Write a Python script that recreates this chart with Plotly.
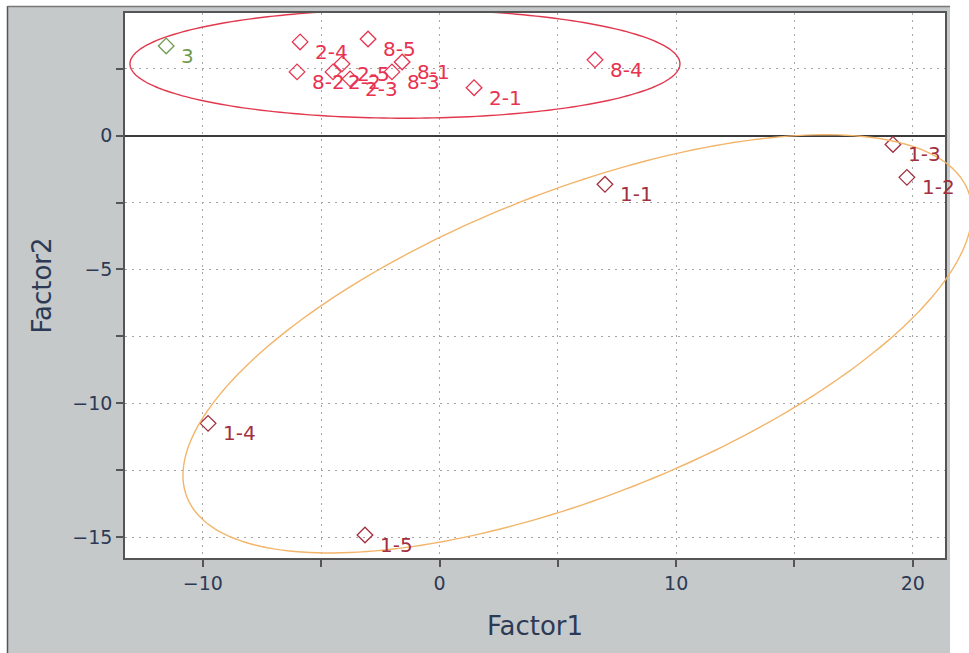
import numpy as np
import plotly.graph_objects as go

# ---------------- data ----------------
names = ["3", "2-4", "8-5", "8-2", "2-2", "2-5", "2-3", "8-3", "8-1", "2-1", "8-4",
         "1-1", "1-3", "1-2", "1-4", "1-5"]
factor1 = [-11.55, -5.89, -3.02, -6.02, -4.50, -4.12, -3.78, -2.01, -1.58, 1.46, 6.57,
           6.99, 19.16, 19.75, -9.78, -3.15]
factor2 = [3.35, 3.50, 3.61, 2.38, 2.38, 2.68, 2.12, 2.38, 2.75, 1.79, 2.83,
           -1.82, -0.33, -1.56, -10.75, -14.92]
groups = ["g3", "g28", "g28", "g28", "g28", "g28", "g28", "g28", "g28", "g28", "g28",
          "g1", "g1", "g1", "g1", "g1"]

group_order = ["g28", "g1", "g3"]
group_colors = {"g28": "#e8324f", "g1": "#a2303f", "g3": "#6f9a50"}

# confidence ellipses (centre, semi-axis vectors in data units)
ell_groups = ["g28", "g1"]
ell_cx = [-1.46, 5.83]
ell_cy = [2.68, -7.78]
ell_major = [(11.62, 0.0), (16.50, 5.73)]
ell_minor = [(0.0, 2.03), (2.38, -5.31)]
ell_colors = ["#e2384e", "#f2b56a"]

x_range = [-13.29, 21.36]
y_range = [-15.78, 4.58]
x_major = [-10, 0, 10, 20]
y_major = [-15, -10, -5, 0]

# ---------------- figure ----------------
fig = go.Figure()

for g in group_order:
    idx = [i for i, gg in enumerate(groups) if gg == g]
    fig.add_trace(go.Scatter(
        x=[factor1[i] for i in idx],
        y=[factor2[i] for i in idx],
        mode="markers",
        marker=dict(symbol="diamond-open", size=12, color=group_colors[g],
                    line=dict(width=1.3, color=group_colors[g])),
        cliponaxis=False,
        showlegend=False,
    ))

annotations = []
for n, xv, yv, g in zip(names, factor1, factor2, groups):
    annotations.append(dict(x=xv, y=yv, xref="x", yref="y", text=n, showarrow=False,
                            xanchor="left", yanchor="middle", xshift=13, yshift=-10,
                            font=dict(family="DejaVu Sans", size=20, color=group_colors[g])))

shapes = []
W, H = 969, 653
ml, mr, mt, mb = 125, 24, 11, 95
pw, ph = W - ml - mr, H - mt - mb


def px2paper_x(px):
    return (px - ml) / pw


def py2paper_y(py):
    return (H - mb - py) / ph


# white page around the grey panel
shapes.append(dict(type="rect", xref="paper", yref="paper", layer="below",
                   x0=px2paper_x(950), x1=px2paper_x(975), y0=py2paper_y(660), y1=py2paper_y(-5),
                   fillcolor="white", line=dict(width=0)))
shapes.append(dict(type="rect", xref="paper", yref="paper", layer="below",
                   x0=px2paper_x(-5), x1=px2paper_x(975), y0=py2paper_y(4), y1=py2paper_y(-5),
                   fillcolor="white", line=dict(width=0)))
shapes.append(dict(type="rect", xref="paper", yref="paper", layer="below",
                   x0=px2paper_x(-5), x1=px2paper_x(7), y0=py2paper_y(660), y1=py2paper_y(-5),
                   fillcolor="white", line=dict(width=0)))
shapes.append(dict(type="line", xref="paper", yref="paper", layer="below",
                   x0=px2paper_x(7.5), x1=px2paper_x(7.5), y0=py2paper_y(660), y1=py2paper_y(4),
                   line=dict(color="#555", width=1.5)))
shapes.append(dict(type="line", xref="paper", yref="paper", layer="below",
                   x0=px2paper_x(7.5), x1=px2paper_x(950), y0=py2paper_y(4.5), y1=py2paper_y(4.5),
                   line=dict(color="#777", width=1.5)))

# ellipses drawn with x in paper units so they may extend past the frame
t = np.linspace(0, 2 * np.pi, 241)
for cx, cy, (ux, uy), (vx, vy), col in zip(ell_cx, ell_cy, ell_major, ell_minor, ell_colors):
    ex = cx + ux * np.cos(t) + vx * np.sin(t)
    ey = cy + uy * np.cos(t) + vy * np.sin(t)
    xp = (ex - x_range[0]) / (x_range[1] - x_range[0])
    path = "M " + " L ".join(f"{a:.5f},{b:.5f}" for a, b in zip(xp, ey)) + " Z"
    shapes.append(dict(type="path", path=path, xref="paper", yref="y", layer="above",
                       line=dict(color=col, width=1.4)))

axis_font = dict(family="DejaVu Sans", size=19, color="#2c3a55")
title_font = dict(family="DejaVu Sans", size=26, color="#2c3a55")
grid_col = "#a5a5a5"
grid_dash = "2px,5px"

fig.update_layout(
    width=W, height=H,
    margin=dict(l=ml, r=mr, t=mt, b=mb),
    paper_bgcolor="#c6c9ca",
    plot_bgcolor="white",
    shapes=shapes,
    annotations=annotations,
    xaxis=dict(
        range=x_range, tickvals=x_major, ticks="outside", ticklen=7, tickwidth=1.5,
        tickcolor="#555", tickfont=axis_font,
        showline=True, linecolor="#555", linewidth=1.5, mirror=True,
        showgrid=True, gridcolor=grid_col, griddash=grid_dash, gridwidth=1,
        zeroline=False,
        minor=dict(dtick=5, tick0=0, ticks="outside", ticklen=7, tickwidth=1.5, tickcolor="#555",
                   showgrid=True, gridcolor=grid_col, griddash=grid_dash, gridwidth=1),
        title=dict(text="Factor1", font=title_font, standoff=24),
    ),
    yaxis=dict(
        range=y_range, tickvals=y_major, ticks="outside", ticklen=7, tickwidth=1.5,
        tickcolor="#555", tickfont=axis_font,
        showline=True, linecolor="#555", linewidth=1.5, mirror=True,
        showgrid=True, gridcolor=grid_col, griddash=grid_dash, gridwidth=1,
        zeroline=True, zerolinecolor="#3a3a3a", zerolinewidth=1.8,
        minor=dict(dtick=2.5, tick0=0, ticks="outside", ticklen=7, tickwidth=1.5, tickcolor="#555",
                   showgrid=True, gridcolor=grid_col, griddash=grid_dash, gridwidth=1),
        title=dict(text="Factor2", font=title_font, standoff=13),
    ),
)

fig.write_html("out.html", config={"displayModeBar": False},
               post_script="document.body.style.margin='0px';")
